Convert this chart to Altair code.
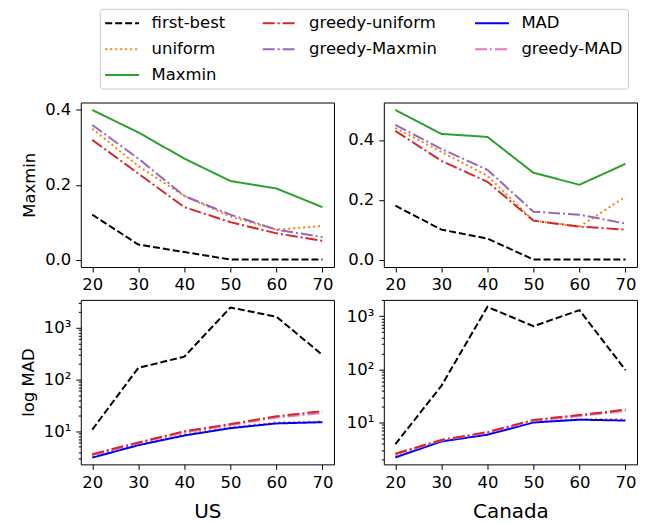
import altair as alt
import pandas as pd

# ---------------- data ----------------
x_vals = [20, 30, 40, 50, 60, 70]

# Maxmin row (top)
us_mm_first_best = [0.12, 0.04, 0.02, 0.0, 0.0, 0.0]
us_mm_uniform = [0.35, 0.25, 0.17, 0.115, 0.08, 0.09]
us_mm_maxmin = [0.40, 0.34, 0.27, 0.21, 0.19, 0.14]
us_mm_greedy_uniform = [0.32, 0.23, 0.14, 0.10, 0.07, 0.05]
us_mm_greedy_maxmin = [0.36, 0.27, 0.17, 0.12, 0.08, 0.06]

ca_mm_first_best = [0.18, 0.10, 0.07, 0.0, 0.0, 0.0]
ca_mm_uniform = [0.44, 0.36, 0.28, 0.13, 0.11, 0.21]
ca_mm_maxmin = [0.50, 0.42, 0.41, 0.29, 0.25, 0.32]
ca_mm_greedy_uniform = [0.43, 0.33, 0.26, 0.13, 0.11, 0.10]
ca_mm_greedy_maxmin = [0.45, 0.37, 0.30, 0.16, 0.15, 0.12]

# log MAD row (bottom)
us_mad_first_best = [10.8, 168, 277, 2460, 1630, 298]
us_mad_uniform = [3.3, 5.6, 8.8, 12.0, 14.8, 15.5]
us_mad_mad = [3.1, 5.4, 8.3, 11.5, 14.2, 15.0]
us_mad_greedy_mad = [3.5, 5.9, 9.6, 13.2, 18.5, 22.5]
us_mad_greedy_uniform = [3.6, 6.1, 10.0, 13.8, 19.5, 24.5]

ca_mad_first_best = [3.9, 49, 1500, 650, 1300, 97]
ca_mad_uniform = [2.4, 4.5, 6.1, 10.5, 11.5, 11.5]
ca_mad_mad = [2.2, 4.4, 5.9, 10.0, 11.3, 10.9]
ca_mad_greedy_mad = [2.5, 4.6, 6.4, 10.8, 13.3, 16.5]
ca_mad_greedy_uniform = [2.6, 4.7, 6.6, 11.2, 13.8, 17.5]

# series styles
style_color = {"first-best": "#000000", "uniform": "#ff7f0e", "Maxmin": "#2ca02c",
               "greedy-uniform": "#d62728", "greedy-Maxmin": "#9467bd",
               "MAD": "#0000ff", "greedy-MAD": "#e377c2"}
style_dash = {"first-best": [7, 3], "uniform": [2, 3], "Maxmin": [1, 0],
              "greedy-uniform": [12, 3, 2, 3], "greedy-Maxmin": [12, 3, 2, 3],
              "MAD": [1, 0], "greedy-MAD": [12, 3, 2, 3]}
style_width = {"first-best": 2, "uniform": 2, "Maxmin": 2, "greedy-uniform": 2,
               "greedy-Maxmin": 2, "MAD": 2.2, "greedy-MAD": 3.2}

# domain order chosen so the 3-column legend reads like the reference
series_order = ["first-best", "uniform", "greedy-MAD", "greedy-uniform",
                "greedy-Maxmin", "Maxmin", "MAD"]
series_colors = [style_color[s] for s in series_order]
series_dashes = [style_dash[s] for s in series_order]
series_widths = [style_width[s] for s in series_order]

top_series = {
    "US": [("first-best", us_mm_first_best), ("uniform", us_mm_uniform),
           ("Maxmin", us_mm_maxmin), ("greedy-Maxmin", us_mm_greedy_maxmin),
           ("greedy-uniform", us_mm_greedy_uniform)],
    "Canada": [("first-best", ca_mm_first_best), ("uniform", ca_mm_uniform),
               ("Maxmin", ca_mm_maxmin), ("greedy-Maxmin", ca_mm_greedy_maxmin),
               ("greedy-uniform", ca_mm_greedy_uniform)],
}
bottom_series = {
    "US": [("first-best", us_mad_first_best), ("uniform", us_mad_uniform),
           ("MAD", us_mad_mad), ("greedy-MAD", us_mad_greedy_mad),
           ("greedy-uniform", us_mad_greedy_uniform)],
    "Canada": [("first-best", ca_mad_first_best), ("uniform", ca_mad_uniform),
               ("MAD", ca_mad_mad), ("greedy-MAD", ca_mad_greedy_mad),
               ("greedy-uniform", ca_mad_greedy_uniform)],
}


def frame(series_list):
    rows = []
    for name, vals in series_list:
        for xv, v in zip(x_vals, vals):
            rows.append({"x": xv, "value": v, "series": name})
    return pd.DataFrame(rows)


W, H = 254, 165
FONT = "DejaVu Sans"

legend = alt.Legend(
    title=None, orient="none", legendX=19, legendY=-94, columns=3,
    symbolType="M-2,0H2", symbolSize=289, symbolStrokeWidth=2,
    symbolOffset=8, labelOffset=20,
    labelFontSize=16.5, labelFont=FONT, labelColor="black",
    columnPadding=33, rowPadding=8, padding=5,
    strokeColor="#cccccc", fillColor="white", cornerRadius=3, labelLimit=300,
)

color_enc = alt.Color("series:N", scale=alt.Scale(domain=series_order, range=series_colors), legend=legend)
dash_enc = alt.StrokeDash("series:N", scale=alt.Scale(domain=series_order, range=series_dashes), legend=legend)
width_enc = alt.StrokeWidth("series:N", scale=alt.Scale(domain=series_order, range=series_widths), legend=None)

x_scale = alt.Scale(domain=[17.5, 72.5], nice=False, zero=False)


def x_axis(title):
    if title:
        return alt.Axis(values=x_vals, title=title, titleFontSize=20, titlePadding=11)
    return alt.Axis(values=x_vals, title=None)


def top_panel(country, ydomain, ytitle):
    yax = alt.Axis(values=[0.0, 0.2, 0.4], format=".1f", title=ytitle if ytitle else None, titlePadding=7)
    return alt.Chart(frame(top_series[country])).mark_line().encode(
        x=alt.X("x:Q", scale=x_scale, axis=x_axis(None)),
        y=alt.Y("value:Q", scale=alt.Scale(domain=ydomain, nice=False, zero=False), axis=yax),
        color=color_enc, strokeDash=dash_enc, strokeWidth=width_enc,
    ).properties(width=W, height=H)


def log_ticks(lo, hi):
    vals = []
    for dec in [1, 10, 100, 1000]:
        for m in range(1, 10):
            v = m * dec
            if lo <= v <= hi:
                vals.append(v)
    return vals


def bottom_panel(country, ydomain, ytitle, xtitle):
    yax = alt.Axis(
        values=log_ticks(*ydomain),
        labelExpr="datum.value == 10 ? '10¹' : datum.value == 100 ? '10²' : datum.value == 1000 ? '10³' : ''",
        tickSize={"condition": {"test": "datum.value == 10 || datum.value == 100 || datum.value == 1000", "value": 5}, "value": 2.5},
        title=ytitle if ytitle else None, titlePadding=7,
    )
    return alt.Chart(frame(bottom_series[country])).mark_line().encode(
        x=alt.X("x:Q", scale=x_scale, axis=x_axis(xtitle)),
        y=alt.Y("value:Q", scale=alt.Scale(type="log", domain=ydomain, nice=False), axis=yax),
        color=color_enc, strokeDash=dash_enc, strokeWidth=width_enc,
    ).properties(width=W, height=H)


chart = alt.concat(
    top_panel("US", [-0.02, 0.42], "Maxmin"),
    top_panel("Canada", [-0.025, 0.525], None),
    bottom_panel("US", [2.3, 3450], "log MAD", "US"),
    bottom_panel("Canada", [1.63, 2030], None, "Canada"),
    columns=2, spacing={"row": 33, "column": 50}, bounds="flush",
).properties(
    padding={"left": 11, "top": -1, "right": 5, "bottom": 0}
).configure_view(
    stroke="black", strokeWidth=1
).configure_axis(
    grid=False, domain=False, tickColor="black", labelColor="black", titleColor="black",
    labelFontSize=16.5, titleFontSize=16.5, labelFont=FONT, titleFont=FONT,
    titleFontWeight="normal", tickSize=5, labelPadding=5,
)

chart.save("out.html", embed_options={"renderer": "svg", "actions": False})
